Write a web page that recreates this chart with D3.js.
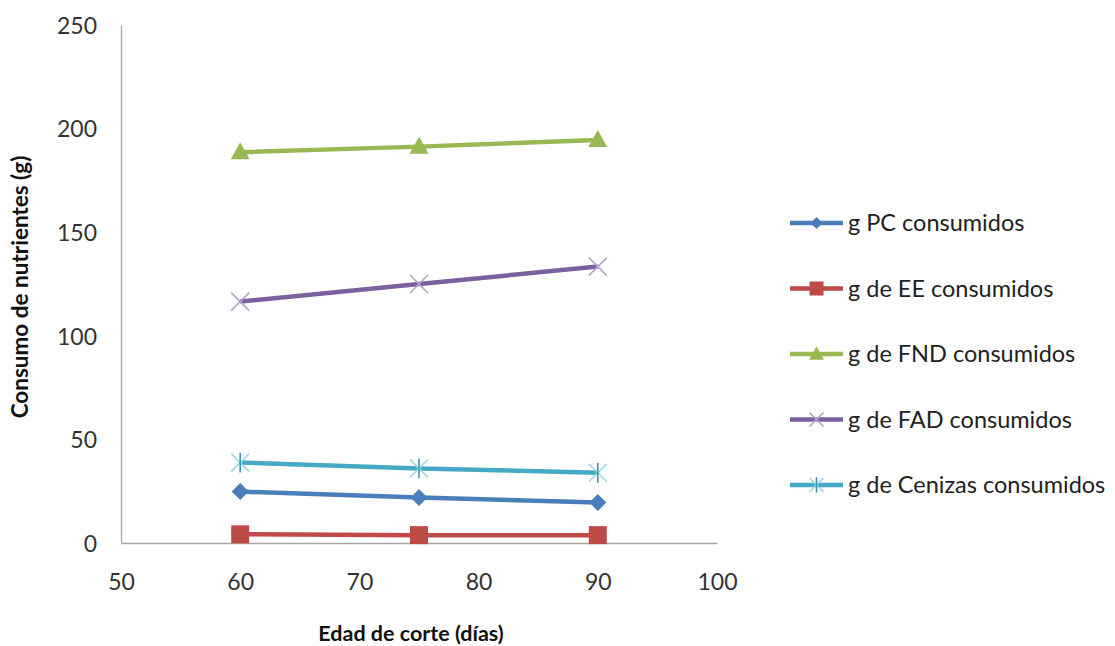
<!DOCTYPE html>
<html>
<head>
<meta charset="utf-8">
<script src="https://cdn.jsdelivr.net/npm/d3@7"></script>
<style>
  html, body { margin: 0; padding: 0; background: #fff; }
  svg { display: block; font-family: Lato, "Open Sans", sans-serif; }
</style>
</head>
<body>
<svg id="chart" width="1115" height="646"></svg>
<script>
// Cutting age (days)
const ages = [60, 75, 90];

// Nutrient intake (g) per cutting age
const pcValues      = [24.8, 22.0, 19.5];
const eeValues      = [4.2, 3.8, 3.8];
const fndValues     = [188.6, 191.3, 194.5];
const fadValues     = [116.5, 125.0, 133.4];
const cenizasValues = [38.8, 36.0, 33.9];

const seriesNames = [
  "g PC consumidos",
  "g de EE consumidos",
  "g de FND consumidos",
  "g de FAD consumidos",
  "g de Cenizas consumidos"
];

const xTicks = [50, 60, 70, 80, 90, 100];
const yTicks = [0, 50, 100, 150, 200, 250];

const xTitle = "Edad de corte (días)";
const yTitle = "Consumo de nutrientes (g)";

const series = [
  { name: seriesNames[0], values: pcValues,      color: "#4a7ebb", marker: "diamond" },
  { name: seriesNames[1], values: eeValues,      color: "#be4b48", marker: "square" },
  { name: seriesNames[2], values: fndValues,     color: "#98b954", marker: "triangle" },
  { name: seriesNames[3], values: fadValues,     color: "#7d60a0", marker: "cross" },
  { name: seriesNames[4], values: cenizasValues, color: "#46aac5", marker: "star" }
];

const svg = d3.select("#chart");
const plot = { left: 121, right: 717, top: 25, bottom: 543 };

const x = d3.scaleLinear().domain([50, 100]).range([plot.left, plot.right]);
const y = d3.scaleLinear().domain([0, 250]).range([plot.bottom, plot.top]);

// Axes
const xAxis = svg.append("g")
  .attr("transform", `translate(0,${plot.bottom})`)
  .call(d3.axisBottom(x).tickValues(xTicks).tickSize(0).tickPadding(31));
const yAxis = svg.append("g")
  .attr("transform", `translate(${plot.left},0)`)
  .call(d3.axisLeft(y).tickValues(yTicks).tickSize(0).tickPadding(24));

[xAxis, yAxis].forEach(a => {
  a.select(".domain").attr("stroke", "#a6a6a6").attr("stroke-width", 1.3);
  a.selectAll("text")
    .attr("font-family", "Lato, 'Open Sans', sans-serif")
    .attr("font-size", 23)
    .attr("fill", "#333");
});
yAxis.selectAll("text").attr("dy", "0.36em");
xAxis.selectAll("text").attr("dy", "0.71em");

// Axis titles
svg.append("text")
  .attr("x", (plot.left + plot.right) / 2 - 8)
  .attr("y", 641)
  .attr("text-anchor", "middle")
  .attr("font-size", 21.5)
  .attr("font-weight", "bold")
  .attr("fill", "#111")
  .text(xTitle);

svg.append("text")
  .attr("transform", `translate(28,${(plot.top + plot.bottom) / 2 + 3}) rotate(-90)`)
  .attr("text-anchor", "middle")
  .attr("font-size", 22.5)
  .attr("font-weight", "bold")
  .attr("fill", "#111")
  .text(yTitle);

// Marker drawing
function drawMarker(g, type, color, s) {
  if (type === "diamond") {
    g.append("path").attr("d", `M0,${-s}L${s},0L0,${s}L${-s},0Z`).attr("fill", color);
  } else if (type === "square") {
    g.append("rect").attr("x", -s).attr("y", -s).attr("width", 2 * s).attr("height", 2 * s).attr("fill", color);
  } else if (type === "triangle") {
    g.append("path").attr("d", `M0,${-s * 1.05}L${s},${s * 0.75}L${-s},${s * 0.75}Z`).attr("fill", color);
  } else if (type === "cross") {
    g.append("path").attr("d", `M${-s},${-s}L${s},${s}M${-s},${s}L${s},${-s}`)
      .attr("stroke", "#b3a4c9").attr("stroke-width", 1.6).attr("fill", "none");
  } else if (type === "star") {
    g.append("path").attr("d", `M${-s},${-s}L${s},${s}M${-s},${s}L${s},${-s}`)
      .attr("stroke", "#9fd6e4").attr("stroke-width", 1.6).attr("fill", "none");
    g.append("path").attr("d", `M0,${-s * 1.1}L0,${s * 1.1}`)
      .attr("stroke", "#3b97b0").attr("stroke-width", 1.6);
  }
}

const markerSize = { diamond: 8.5, square: 9, triangle: 9.5, cross: 9, star: 9 };
const legendMarkerSize = { diamond: 6, square: 7, triangle: 7.5, cross: 7, star: 7 };

const line = d3.line().x((d, i) => x(ages[i])).y(d => y(d));

series.forEach(s => {
  const g = svg.append("g");
  g.append("path")
    .datum(s.values)
    .attr("d", line)
    .attr("fill", "none")
    .attr("stroke", s.color)
    .attr("stroke-width", 4.5)
    .attr("stroke-linejoin", "round");
  s.values.forEach((v, i) => {
    const m = g.append("g").attr("transform", `translate(${x(ages[i])},${y(v)})`);
    drawMarker(m, s.marker, s.color, markerSize[s.marker]);
  });
});

// Legend
const legendY = d3.scalePoint().domain(seriesNames).range([223, 485]);
series.forEach(s => {
  const ly = legendY(s.name);
  const g = svg.append("g");
  g.append("line")
    .attr("x1", 790).attr("x2", 843)
    .attr("y1", ly).attr("y2", ly)
    .attr("stroke", s.color).attr("stroke-width", 4.5);
  const m = g.append("g").attr("transform", `translate(816.5,${ly})`);
  drawMarker(m, s.marker, s.color, legendMarkerSize[s.marker]);
  g.append("text")
    .attr("x", 848)
    .attr("y", ly)
    .attr("dy", "0.35em")
    .attr("font-size", 23.5)
    .attr("fill", "#222")
    .text(s.name);
});
</script>
</body>
</html>
